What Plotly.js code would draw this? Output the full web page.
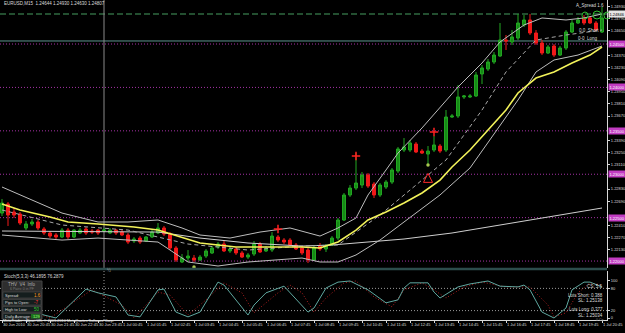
<!DOCTYPE html>
<html><head><meta charset="utf-8">
<script src="https://cdn.plot.ly/plotly-3.0.1.min.js"></script>
<style>html,body{margin:0;padding:0;background:#000;overflow:hidden}#chart{width:625px;height:333px;}</style>
</head><body><div id="chart"></div>
<script>
// ---- DATA ----
const barIndex = [];
for (let i = 0; i <= 100; i++) barIndex.push(i);   // one M15 bar each, 30 Jun 19:45 -> 1 Jul 20:45
const tickBars = [0,4,8,12,16,20,24,28,32,36,40,44,48,52,56,60,64,68,72,76,80,84,88,92,96,100];
const tickLabels = ["30 Jun 2010","30 Jun 20:45","30 Jun 21:45","30 Jun 22:45","30 Jun 23:45","1 Jul 00:45","1 Jul 01:45","1 Jul 02:45","1 Jul 03:45","1 Jul 04:45","1 Jul 05:45","1 Jul 06:45","1 Jul 07:45","1 Jul 08:45","1 Jul 09:45","1 Jul 10:45","1 Jul 11:45","1 Jul 12:45","1 Jul 13:45","1 Jul 14:45","1 Jul 15:45","1 Jul 16:45","1 Jul 17:45","1 Jul 18:45","1 Jul 19:45","1 Jul 20:45"];

const open = [1.22553,1.22657,1.22565,1.22542,1.22381,1.22427,1.22450,1.22369,1.22323,1.22300,
1.22277,1.22357,1.22277,1.22323,1.22369,1.22346,1.22357,1.22346,1.22323,1.22357,
1.22334,1.22300,1.22231,1.22265,1.22231,1.22277,1.22323,1.22381,1.22311,1.22150,
1.21989,1.22035,1.22035,1.22012,1.22058,1.22093,1.22162,1.22196,1.22116,1.22139,
1.22093,1.22046,1.22081,1.22196,1.22116,1.22127,1.22277,1.22242,1.22242,1.22185,
1.22150,1.22127,1.22012,1.22173,1.22139,1.22185,1.22265,1.22473,1.22761,1.22841,
1.22876,1.22991,1.22887,1.22761,1.22853,1.22910,1.23037,1.23279,1.23279,1.23348,
1.23267,1.23233,1.23279,1.23325,1.23279,1.23659,1.23671,1.23890,1.23890,1.23901,
1.24155,1.24212,1.24293,1.24362,1.24546,1.24523,1.24569,1.24719,1.24777,1.24627,
1.24512,1.24396,1.24477,1.24373,1.24454,1.24638,1.24742,1.24800,1.24800,1.24742,1.24638];
const high = [1.22715,1.22680,1.22611,1.22565,1.22461,1.22484,1.22473,1.22392,1.22346,1.22323,
1.22381,1.22381,1.22369,1.22381,1.22392,1.22369,1.22369,1.22381,1.22381,1.22369,
1.22357,1.22323,1.22277,1.22288,1.22288,1.22357,1.22438,1.22404,1.22334,1.22173,
1.22081,1.22127,1.22070,1.22070,1.22139,1.22173,1.22219,1.22231,1.22162,1.22162,
1.22116,1.22093,1.22231,1.22219,1.22173,1.22334,1.22300,1.22265,1.22265,1.22208,
1.22173,1.22150,1.22173,1.22208,1.22196,1.22288,1.22496,1.22784,1.22876,1.23244,
1.23026,1.23014,1.22910,1.22899,1.22933,1.23072,1.23314,1.23417,1.23394,1.23371,
1.23291,1.23325,1.23440,1.23348,1.23740,1.23694,1.24028,1.23913,1.23924,1.24178,
1.24258,1.24327,1.24408,1.24742,1.24604,1.24661,1.24846,1.24834,1.24846,1.24661,
1.24546,1.24489,1.24500,1.24477,1.24661,1.24777,1.24811,1.24834,1.24823,1.24765,1.24926];
const low = [1.22519,1.22404,1.22496,1.22415,1.22357,1.22404,1.22357,1.22300,1.22265,1.22254,
1.22265,1.22254,1.22265,1.22311,1.22300,1.22311,1.22300,1.22334,1.22311,1.22300,
1.22288,1.22196,1.22208,1.22196,1.22219,1.22265,1.22311,1.22288,1.22127,1.21989,
1.21977,1.21989,1.21989,1.22000,1.22035,1.22081,1.22139,1.22104,1.22093,1.22070,
1.22035,1.22023,1.22058,1.22093,1.22104,1.22104,1.22219,1.22196,1.22173,1.22127,
1.22070,1.21977,1.22000,1.22116,1.22104,1.22173,1.22242,1.22461,1.22738,1.22818,
1.22841,1.22841,1.22726,1.22738,1.22830,1.22887,1.23014,1.23256,1.23256,1.23244,
1.23233,1.23106,1.23256,1.23244,1.23256,1.23648,1.23648,1.23867,1.23878,1.23890,
1.24039,1.24189,1.24270,1.24350,1.24431,1.24489,1.24546,1.24696,1.24604,1.24489,
1.24373,1.24385,1.24350,1.24362,1.24431,1.24627,1.24731,1.24719,1.24731,1.24650,1.24627];
const close = [1.22668,1.22530,1.22530,1.22438,1.22427,1.22450,1.22381,1.22323,1.22288,1.22277,
1.22357,1.22277,1.22357,1.22357,1.22323,1.22334,1.22323,1.22357,1.22357,1.22323,
1.22300,1.22219,1.22254,1.22219,1.22277,1.22334,1.22381,1.22311,1.22150,1.22012,
1.22035,1.22058,1.22012,1.22046,1.22116,1.22150,1.22196,1.22116,1.22139,1.22093,
1.22046,1.22070,1.22196,1.22104,1.22139,1.22288,1.22242,1.22219,1.22185,1.22139,
1.22093,1.22012,1.22150,1.22139,1.22173,1.22265,1.22473,1.22761,1.22841,1.22899,
1.22991,1.22864,1.22761,1.22876,1.22910,1.23049,1.23291,1.23314,1.23360,1.23256,
1.23244,1.23267,1.23337,1.23267,1.23659,1.23671,1.23890,1.23901,1.23901,1.24143,
1.24224,1.24293,1.24373,1.24546,1.24535,1.24581,1.24742,1.24777,1.24627,1.24512,
1.24396,1.24466,1.24373,1.24454,1.24638,1.24742,1.24777,1.24742,1.24742,1.24661,1.24800];

// indicator lines, read at selected bars
const maYellowBars = [0,3,8,11,16,22,26,30,33,39,44,50,53,56,59,61,64,67,70,73,75,78,81,84,86,89,92,95,98,100];
const maYellow = [1.22657,1.22588,1.22508,1.22450,1.22427,1.22392,1.22357,1.22277,1.22208,1.22162,1.22162,1.22162,1.22150,1.22219,1.22357,1.22473,1.22565,1.22668,1.22784,1.22933,1.23083,1.23279,1.23509,1.23740,1.23936,1.24108,1.24178,1.24281,1.24373,1.24466];
const bbUpperBars = [0,5,10,16,21,26,30,33,38,43,48,53,56,59,61,64,66,70,74,76,80,83,87,90,94,97,100];
const bbUpper = [1.22853,1.22703,1.22553,1.22450,1.22450,1.22473,1.22381,1.22300,1.22265,1.22334,1.22381,1.22288,1.22381,1.22496,1.22761,1.23049,1.23244,1.23533,1.23855,1.24005,1.24281,1.24523,1.24719,1.24800,1.24777,1.24800,1.24846];
const bbLowerBars = [0,10,16,26,31,36,41,50,53,56,59,63,67,73,78,83,86,89,92,96,100];
const bbLower = [1.22300,1.22242,1.22265,1.22219,1.21989,1.21943,1.21989,1.22035,1.21989,1.21989,1.22070,1.22242,1.22450,1.22761,1.23072,1.23567,1.23855,1.24178,1.24316,1.24373,1.24477];
const bbMidBars = [0,10,21,31,41,50,56,63,70,74,80,84,89,94,100];
const bbMid = [1.22588,1.22415,1.22357,1.22196,1.22127,1.22173,1.22185,1.22530,1.22933,1.23164,1.23740,1.24178,1.24546,1.24604,1.24661];
const maSlowBars = [0,16,26,33,41,50,55,67,75,83,91,100];
const maSlow = [1.22346,1.22334,1.22334,1.22265,1.22208,1.22173,1.22185,1.22254,1.22323,1.22415,1.22508,1.22611];

const stochKBars = [5,7,9,14,16,18,19,21,23,26,27,29,31,33,36,37,41,42,44,47,51,52,54,56,58,61,64,66,67,68,71,72,73,76,78,81,83,86,87,88,90,92,94,95,97,98,100];
const stochK = [20,8,0,78,68,62,57,8,3,76,78,16,3,16,97,89,8,35,68,86,16,27,81,97,100,76,41,49,81,95,95,70,54,84,92,100,86,84,89,76,16,0,27,76,97,97,84];
const stochDBars = [5,8,15,16,20,22,26,28,31,34,37,40,42,46,48,50,52,54,57,59,62,65,67,70,72,74,77,80,84,88,91,92,94,96,98,100];
const stochD = [16,0,76,68,35,0,70,62,8,49,95,68,14,68,89,68,16,54,95,100,57,30,76,95,76,54,84,97,84,84,35,3,14,68,95,89];

const pivotLevels = [1.2450,1.2400,1.2350,1.2300,1.2250,1.2200];
const pivotLabels = ["1.24500","1.24000","1.23500","1.23000","1.22500","1.22000"];
const priceTicks = [1.2493,1.2479,1.2465,1.2437,1.2423,1.2409,1.2395,1.2381,1.2367,1.2339,1.2325,1.2311,1.2283,1.2269,1.2241,1.2227,1.2213];
const bidLevel = 1.24846, bidLabel = "1.24846";
const tealLevel = 1.24535;
const daySeparatorBar = 17;
const crossBars = [46,59,72], crossPrices = [1.22369,1.23210,1.23486];
const arrowBars = [71], arrowPrices = [1.23010];
const dotBars = [32,71], dotPrices = [1.21931,1.23106];

// ---- LAYOUT HELPERS ----
const W = 625, H = 333, ML = 0, MR = 18, MT = 0, MB = 13;
const PW = W - ML - MR, PH = H - MT - MB;
const px = v => v / PW;
const py = v => 1 - v / PH;
const FONT = "Liberation Sans, Arial, sans-serif";

const traces = [];
traces.push({type:'candlestick', x: barIndex, open, high, low, close, xaxis:'x', yaxis:'y',
  increasing:{line:{color:'#22a822', width:1}, fillcolor:'#168a16'},
  decreasing:{line:{color:'#f21a1a', width:1}, fillcolor:'#f21a1a'},
  whiskerwidth:0, hoverinfo:'skip', showlegend:false});
function line(xs, ys, color, width, dash, yaxis){
  return {type:'scatter', mode:'lines', x:xs, y:ys, yaxis: yaxis||'y', line:{color, width, dash: dash||'solid', shape:'linear'}, hoverinfo:'skip', showlegend:false};
}
traces.push(line(maSlowBars, maSlow, '#cfcfcf', 1));
traces.push(line(bbUpperBars, bbUpper, '#bdbdbd', 1));
traces.push(line(bbLowerBars, bbLower, '#bdbdbd', 1));
traces.push(line(bbMidBars, bbMid, '#a8a8a8', 1, '4px,3px'));
traces.push(line(maYellowBars, maYellow, '#f2f25a', 1.6));
traces.push({type:'scatter', mode:'markers', x:crossBars, y:crossPrices, marker:{symbol:'cross-thin', size:6, line:{color:'#ff2020', width:1.5}}, hoverinfo:'skip', showlegend:false});
traces.push({type:'scatter', mode:'markers', x:arrowBars, y:arrowPrices, marker:{symbol:'arrow-up-open', size:9, color:'#ff2a2a', line:{color:'#ff2a2a', width:1}}, hoverinfo:'skip', showlegend:false});
traces.push({type:'scatter', mode:'markers', x:dotBars, y:dotPrices, marker:{symbol:'circle', size:3.5, color:'#a8c850'}, hoverinfo:'skip', showlegend:false});
traces.push(line(stochDBars, stochD, '#b02020', 1, '1px,2px', 'y2'));
traces.push(line(stochKBars, stochK, '#5fa8a0', 1, 'solid', 'y2'));

const shapes = [];
pivotLevels.forEach(p => shapes.push({type:'line', xref:'paper', x0:0, x1:1, yref:'y', y0:p, y1:p, line:{color:'#a632a6', width:1, dash:'1px,2px'}, layer:'below'}));
shapes.push({type:'line', xref:'paper', x0:0, x1:1, yref:'y', y0:bidLevel, y1:bidLevel, line:{color:'#2f6a40', width:1.5, dash:'6px,3px'}, layer:'below'});
shapes.push({type:'line', xref:'paper', x0:0, x1:1, yref:'y', y0:tealLevel, y1:tealLevel, line:{color:'#5d948e', width:1}, layer:'below'});
shapes.push({type:'line', xref:'x', x0:daySeparatorBar, x1:daySeparatorBar, yref:'paper', y0:py(268), y1:1, line:{color:'#8a8a8a', width:1}, layer:'below'});
shapes.push({type:'line', xref:'x', x0:daySeparatorBar, x1:daySeparatorBar, yref:'paper', y0:0, y1:py(271), line:{color:'#9a9a9a', width:1, dash:'1px,2px'}, layer:'below'});
[80,20].forEach(v => shapes.push({type:'line', xref:'paper', x0:0, x1:1, yref:'y2', y0:v, y1:v, line:{color:'#9a9a9a', width:1, dash:'1px,2px'}, layer:'below'}));
shapes.push({type:'line', xref:'paper', x0:0, x1:1, yref:'paper', y0:py(269), y1:py(269), line:{color:'#2c4c4c', width:2.5}});
// top-right circles
[[582,12,588,19],[593,11,601,19],[604,12,610,19]].forEach(c => shapes.push({type:'circle', xref:'paper', yref:'paper', x0:px(c[0]), x1:px(c[2]), y0:py(c[3]), y1:py(c[1]), line:{color:'#2fc02f', width:1}}));
// info panel
shapes.push({type:'rect', xref:'paper', yref:'paper', x0:px(2), x1:px(42), y0:py(319), y1:py(281), fillcolor:'#2e2e2e', line:{color:'#444', width:1}});
[[292,298],[299.5,305],[306.5,312],[313.5,319]].forEach(r => shapes.push({type:'rect', xref:'paper', yref:'paper', x0:px(3), x1:px(41), y0:py(r[1]), y1:py(r[0]), fillcolor:'#141d1d', line:{color:'#555', width:0.5}}));
shapes.push({type:'rect', xref:'paper', yref:'paper', x0:px(31), x1:px(40), y0:py(318.5), y1:py(314), fillcolor:'#1d6e1d', line:{width:0}});

const ann = [];
function txt(x, y, s, opts){
  opts = opts || {};
  ann.push({xref:'paper', yref:'paper', x:px(x), y:py(y), text:s, showarrow:false, xanchor:opts.anchor||'left', yanchor:'middle',
    font:{family:FONT, size:opts.size||4.5, color:opts.color||'#dcdcdc'}, bgcolor:opts.bg, borderpad:0});
}
txt(3, 4, "EURUSD,M15  1.24644 1.24930 1.24630 1.24807");
txt(605, 5, "A_Spread 1.6", {anchor:'right'});
txt(578, 30, "0.0  Short");
txt(577, 38, "0-0  Long");
txt(106, 270, "½", {color:'#9a9a9a'});
txt(3, 276.5, "Stoch(5,3,3) 46.1895 76.2879");
txt(22, 284.5, "THV  V4  Info", {anchor:'center', color:'#b0b0b0'});
txt(22, 289, "6 Pairs: 0 in PF", {anchor:'center', color:'#777', size:3.5});
txt(4, 295, "Spread:", {size:4});           txt(33, 295, "1.6", {color:'#ff9a20'});
txt(4, 302.3, "Pips to Open:", {size:4});   txt(33, 302.3, "-7", {color:'#ff3030'});
txt(4, 309.3, "High to Low:", {size:4});    txt(33, 309.3, "50", {color:'#30d030'});
txt(4, 316.3, "Daily Average:", {size:4});  txt(32, 316.3, "129", {color:'#a0ff80', size:4});
txt(2, 321, "MetaTrader - Alpari UK, © 2001-2010 MetaQuotes Software Corp.", {color:'#e8e8e8', size:3.8});
txt(604, 286, "CS: 5.6", {anchor:'right'});
txt(604, 295, "Lots Short: 0.388", {anchor:'right'});
txt(604, 300, "SL: 1.25138", {anchor:'right'});
txt(604, 309, "Lots Long: 0.377", {anchor:'right'});
txt(604, 315, "SL: 1.25034", {anchor:'right'});
txt(604, 319.5, "0 Cn", {anchor:'right', color:'#888', size:3.5});
// axis price boxes
pivotLevels.forEach((p,i) => ann.push({xref:'paper', yref:'y', x:1, y:p, xanchor:'left', xshift:1, yanchor:'middle', text:pivotLabels[i], showarrow:false,
  font:{family:FONT, size:4, color:'#ffffff'}, bgcolor:'#c23cc2', borderpad:0.5}));
ann.push({xref:'paper', yref:'y', x:1, y:bidLevel, xanchor:'left', xshift:1, yanchor:'middle', text:bidLabel, showarrow:false,
  font:{family:FONT, size:4, color:'#000'}, bgcolor:'#e6e6e6', borderpad:0.5});

const axisCommon = {showgrid:false, zeroline:false, showline:true, linecolor:'#d8d8d8', linewidth:1, ticks:'outside', ticklen:2, tickcolor:'#d8d8d8', fixedrange:true};
const layout = {
  width:W, height:H, margin:{l:ML, r:MR, t:MT, b:MB, pad:0},
  paper_bgcolor:'#000', plot_bgcolor:'#000', showlegend:false, dragmode:false,
  font:{family:FONT, size:4.5, color:'#d8d8d8'},
  xaxis: Object.assign({}, axisCommon, {anchor:'y2', range:[-0.333, 100.833], tickmode:'array', tickvals:tickBars, ticktext:tickLabels, tickangle:0,
    tickfont:{family:FONT, size:4, color:'#dcdcdc'}, ticklabelposition:'outside right', rangeslider:{visible:false}}),
  yaxis: Object.assign({}, axisCommon, {domain:[py(268), 1], anchor:'x', side:'right', range:[1.21920, 1.25007], tickmode:'array', tickvals:priceTicks,
    ticktext: priceTicks.map(v => v.toFixed(5)), tickfont:{family:FONT, size:4, color:'#dcdcdc'}}),
  yaxis2: Object.assign({}, axisCommon, {domain:[0, py(271)], anchor:'x', side:'right', range:[-5.4, 127], tickmode:'array', tickvals:[100,80,20,0],
    ticktext:['100','80','20','0'], tickfont:{family:FONT, size:4, color:'#dcdcdc'}}),
  shapes, annotations: ann
};
Plotly.newPlot('chart', traces, layout, {staticPlot:true, displayModeBar:false});
</script></body></html>
